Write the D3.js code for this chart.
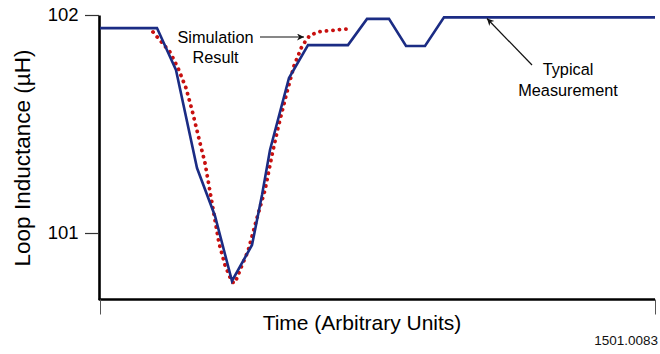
<!DOCTYPE html>
<html>
<head>
<meta charset="utf-8">
<script src="https://cdn.jsdelivr.net/npm/d3@7/dist/d3.min.js"></script>
<style>
  html, body { margin: 0; padding: 0; background: #fff; }
  svg { display: block; font-family: "Liberation Sans", Arial, sans-serif; }
</style>
</head>
<body>
<svg id="chart" width="660" height="354"></svg>
<script>
// ---- Data (time in arbitrary units 0..100, inductance in µH) ----
const measTime = [0, 10.27, 13.69, 17.48, 20.72, 23.78, 27.39, 29.19, 30.63, 34.05, 37.48, 44.68, 48.11, 52.07, 55.14, 58.56, 61.98, 100];
const measL    = [101.940, 101.940, 101.748, 101.298, 101.078, 100.780, 100.945, 101.174, 101.381, 101.711, 101.862, 101.862, 101.982, 101.982, 101.858, 101.858, 101.989, 101.989];

const simTime = [9.55, 12.61, 14.05, 15.50, 16.58, 18.02, 18.92, 20.18, 21.44, 22.52, 23.78, 24.32, 25.59, 26.67, 28.29, 29.73, 30.99, 32.07, 33.69, 34.95, 36.40, 37.84, 39.64, 44.50];
const simL    = [101.922, 101.830, 101.757, 101.665, 101.564, 101.413, 101.321, 101.138, 100.954, 100.853, 100.775, 100.771, 100.853, 100.917, 101.069, 101.197, 101.358, 101.482, 101.647, 101.766, 101.858, 101.908, 101.924, 101.936];

const yTicks = [101, 102];
const xTicks = [0, 100];
const yLabel = "Loop Inductance (µH)";
const xLabel = "Time (Arbitrary Units)";
const simLabel = ["Simulation", "Result"];
const measLabel = ["Typical", "Measurement"];
const figId = "1501.0083";

// ---- Scales ----
const svg = d3.select("#chart");
const x = d3.scaleLinear().domain([0, 100]).range([100, 655]);
const y = d3.scaleLinear().domain([100.695, 102]).range([299.5, 15]);

// ---- Axes ----
const yAxis = svg.append("g")
  .attr("transform", "translate(99,0)")
  .call(d3.axisLeft(y).tickValues(yTicks).tickSize(14).tickSizeOuter(0).tickPadding(6).tickFormat(d3.format("d")));
yAxis.select(".domain").attr("stroke", "#000").attr("stroke-width", 2.6);
yAxis.selectAll(".tick line").attr("stroke", "#333").attr("stroke-width", 1.2);
yAxis.selectAll(".tick text").attr("font-size", 18.5).attr("fill", "#000")
  .attr("font-family", "Liberation Sans, Arial, sans-serif").attr("dx", "-0.5");

const xAxis = svg.append("g")
  .attr("transform", "translate(0,299.5)")
  .call(d3.axisBottom(x).tickValues(xTicks).tickSize(15).tickSizeOuter(0).tickFormat(""));
xAxis.select(".domain").attr("stroke", "#000").attr("stroke-width", 2.6)
  .attr("d", `M${x(0) - 1.3},0H${x(100)}`);
xAxis.selectAll(".tick line").attr("stroke", "#555").attr("stroke-width", 1);

// ---- Lines ----
const line = d3.line().x(d => x(d[0])).y(d => y(d[1]));

svg.append("path")
  .datum(simTime.map((t, i) => [t, simL[i]]))
  .attr("d", line)
  .attr("fill", "none")
  .attr("stroke", "#c8100f")
  .attr("stroke-width", 3.8)
  .attr("stroke-linecap", "round")
  .attr("stroke-dasharray", "0.1 6.4");

svg.append("path")
  .datum(measTime.map((t, i) => [t, measL[i]]))
  .attr("d", line)
  .attr("fill", "none")
  .attr("stroke", "#1b2c84")
  .attr("stroke-width", 2.6)
  .attr("stroke-linejoin", "miter");

// ---- Labels ----
svg.append("text")
  .attr("transform", "translate(30,158) rotate(-90)")
  .attr("text-anchor", "middle")
  .attr("font-size", 22.5)
  .text(yLabel);

svg.append("text")
  .attr("x", 362).attr("y", 329.5)
  .attr("text-anchor", "middle")
  .attr("font-size", 21)
  .text(xLabel);

svg.append("text")
  .attr("x", 658).attr("y", 345)
  .attr("text-anchor", "end")
  .attr("font-size", 13.5)
  .attr("fill", "#111")
  .text(figId);

// ---- Annotations ----
const defs = svg.append("defs");
defs.append("marker")
  .attr("id", "arrow")
  .attr("viewBox", "0 0 10 10")
  .attr("refX", 10).attr("refY", 5)
  .attr("markerWidth", 11).attr("markerHeight", 7)
  .attr("markerUnits", "userSpaceOnUse")
  .attr("orient", "auto")
  .append("path").attr("d", "M0,0L10,5L0,10L3,5Z").attr("fill", "#111");

const simText = svg.append("text").attr("text-anchor", "middle").attr("font-size", 16.3);
simText.selectAll("tspan").data(simLabel).join("tspan")
  .attr("x", 215.5).attr("y", (d, i) => 43 + i * 20).text(d => d);

svg.append("line")
  .attr("x1", 260).attr("y1", 37).attr("x2", 304).attr("y2", 37)
  .attr("stroke", "#111").attr("stroke-width", 1.2)
  .attr("marker-end", "url(#arrow)");

const measText = svg.append("text").attr("text-anchor", "middle").attr("font-size", 16.3);
measText.selectAll("tspan").data(measLabel).join("tspan")
  .attr("x", 568).attr("y", (d, i) => 75 + i * 21).text(d => d);

svg.append("line")
  .attr("x1", 532).attr("y1", 65).attr("x2", 487).attr("y2", 18.5)
  .attr("stroke", "#111").attr("stroke-width", 1.2)
  .attr("marker-end", "url(#arrow)");
</script>
</body>
</html>
